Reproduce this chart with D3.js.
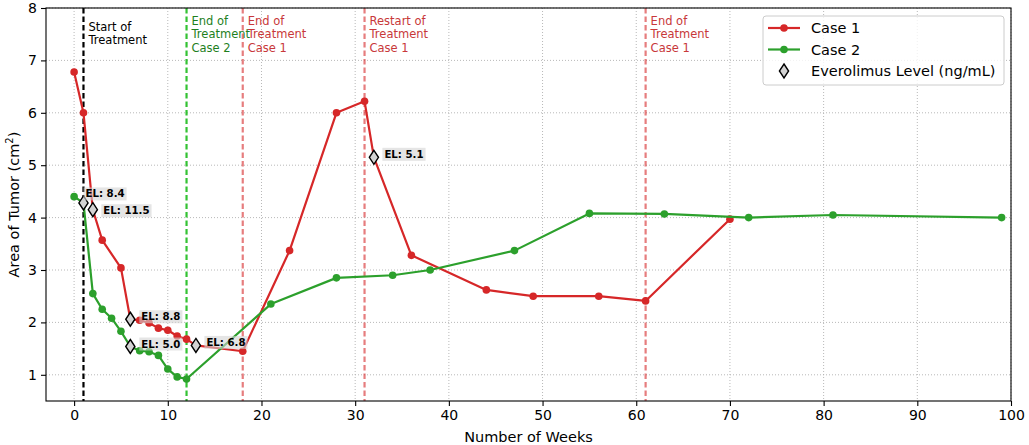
<!DOCTYPE html>
<html><head><meta charset="utf-8">
<script src="https://cdn.jsdelivr.net/npm/d3@7"></script>
<style>body{margin:0;background:#fff} text{font-family:"DejaVu Sans",sans-serif}</style>
</head><body><svg id="c" width="1029" height="445"></svg>
<script>
// ---- data ----
const case1Weeks = [0,1,2,3,5,6,7,8,9,10,11,12,13,18,23,28,31,32,36,44,49,56,61,70];
const case1Area  = [6.78,6.0,4.15,3.57,3.04,2.06,2.04,1.99,1.89,1.85,1.74,1.68,1.56,1.45,3.37,6.0,6.22,5.15,3.28,2.62,2.5,2.5,2.41,3.97];
const case2Weeks = [0,1,2,3,4,5,6,7,8,9,10,11,12,21,28,34,38,47,55,63,72,81,99];
const case2Area  = [4.4,4.28,2.55,2.25,2.08,1.83,1.54,1.46,1.44,1.37,1.11,0.96,0.92,2.35,2.85,2.9,3.0,3.37,4.08,4.07,4.0,4.05,4.0];
const elCase  = [2,1,1,2,1,1];
const elWeek  = [1,2,6,6,13,32];
const elValue = ["8.4","11.5","8.8","5.0","6.8","5.1"];
const eventWeeks  = [1,12,18,31,61];
const eventLabels = [["Start of","Treatment"],["End of","Treatment","Case 2"],["End of","Treatment","Case 1"],["Restart of","Treatment","Case 1"],["End of","Treatment","Case 1"]];
const seriesNames = ["Case 1","Case 2"];
const xTicks = [0,10,20,30,40,50,60,70,80,90,100];
const yTicks = [1,2,3,4,5,6,7,8];

// ---- styles / layout ----
const RED = "#d62728", GREEN = "#2ca02c";
const eventLine = ["#000000","#33c233","rgba(214,39,40,0.6)","rgba(214,39,40,0.6)","rgba(214,39,40,0.6)"];
const eventText = ["#000000","#1e7f1e","#c8383a","#c8383a","#c8383a"];
const eventTop  = [23,17,17,17,17];
const elDx = [2,10.5,11,11,10.5,10.5];
const elDy = [-9,1,-2.5,-2.5,-3,-3];

const W=1029,H=445, L=46,R=1011,T=8,B=401;
const svg = d3.select("#c");
const x = d3.scaleLinear().domain([-3,100]).range([L,R]);
const y = d3.scaleLinear().domain([0.5,8]).range([B,T]);

// grid
const g = svg.append("g");
g.selectAll(".gx").data(xTicks).join("line")
  .attr("x1",d=>x(d)).attr("x2",d=>x(d)).attr("y1",T).attr("y2",B)
  .attr("stroke","#b0b0b0").attr("stroke-width",0.9).attr("stroke-dasharray","1,2");
g.selectAll(".gy").data(yTicks).join("line")
  .attr("y1",d=>y(d)).attr("y2",d=>y(d)).attr("x1",L).attr("x2",R)
  .attr("stroke","#b0b0b0").attr("stroke-width",0.9).attr("stroke-dasharray","1,2");

// event lines
svg.selectAll(".ev").data(eventWeeks).join("line")
  .attr("x1",d=>x(d)).attr("x2",d=>x(d)).attr("y1",T).attr("y2",B)
  .attr("stroke",(d,i)=>eventLine[i]).attr("stroke-width",2.2).attr("stroke-dasharray","5.5,3");

// series
const series = [
  {w:case1Weeks,a:case1Area,c:RED},
  {w:case2Weeks,a:case2Area,c:GREEN}
];
const line = d3.line().x(d=>x(d[0])).y(d=>y(d[1]));
series.forEach(s=>{
  const pts = s.w.map((w,i)=>[w,s.a[i]]);
  svg.append("path").datum(pts).attr("d",line).attr("fill","none")
    .attr("stroke",s.c).attr("stroke-width",2.2).attr("stroke-linejoin","round");
  svg.append("g").selectAll("circle").data(pts).join("circle")
    .attr("cx",d=>x(d[0])).attr("cy",d=>y(d[1])).attr("r",3.8).attr("fill",s.c);
});

// event annotations
eventWeeks.forEach((w,i)=>{
  const t = svg.append("text").attr("x",x(w)+5).attr("y",T+eventTop[i])
    .attr("fill",eventText[i]).attr("font-size",11.5);
  eventLabels[i].forEach((s,j)=>t.append("tspan").attr("x",x(w)+5).attr("dy",j?13.3:0).text(s));
});

// EL diamonds + labels
const diamond = "M0,-7L4.6,0L0,7L-4.6,0Z";
elWeek.forEach((w,i)=>{
  const s = series[elCase[i]-1];
  const v = s.a[s.w.indexOf(w)];
  svg.append("path").attr("d",diamond).attr("transform",`translate(${x(w)},${y(v)})`)
    .attr("fill","#d3d3d3").attr("stroke","#000").attr("stroke-width",1.4);
});
elWeek.forEach((w,i)=>{
  const s = series[elCase[i]-1];
  const v = s.a[s.w.indexOf(w)];
  const px = x(w), py = y(v);
  const grp = svg.append("g");
  const t = grp.append("text").attr("x",px+elDx[i]).attr("y",py+elDy[i])
    .attr("dominant-baseline","central").attr("font-size",10.2).attr("font-weight","bold")
    .attr("fill","#000").text("EL: "+elValue[i]);
  const bb = t.node().getBBox();
  grp.insert("rect","text").attr("x",bb.x-2).attr("y",bb.y-1).attr("width",bb.width+4).attr("height",bb.height+2)
    .attr("fill","#d3d3d3").attr("fill-opacity",0.6);
});

// frame
svg.append("rect").attr("x",L).attr("y",T).attr("width",R-L).attr("height",B-T)
  .attr("fill","none").attr("stroke","#000").attr("stroke-width",1.1);

// axes
const xa = svg.append("g").attr("transform",`translate(0,${B})`)
  .call(d3.axisBottom(x).tickValues(xTicks).tickSize(5).tickPadding(4).tickFormat(d3.format("d")));
const ya = svg.append("g").attr("transform",`translate(${L},0)`)
  .call(d3.axisLeft(y).tickValues(yTicks).tickSize(5).tickPadding(4).tickFormat(d3.format("d")));
[xa,ya].forEach(a=>{
  a.select(".domain").remove();
  a.selectAll("text").attr("font-size",14).attr("fill","#000").attr("font-family","DejaVu Sans");
  a.selectAll("line").attr("stroke","#000").attr("stroke-width",1.1);
});

svg.append("text").attr("x",(L+R)/2).attr("y",442).attr("text-anchor","middle")
  .attr("font-size",14.5).text("Number of Weeks");
const yl = svg.append("text").attr("transform",`translate(19,${(T+B)/2}) rotate(-90)`)
  .attr("text-anchor","middle").attr("font-size",14.5);
yl.append("tspan").text("Area of Tumor (cm");
yl.append("tspan").attr("font-size",10).attr("dy",-6).text("2");
yl.append("tspan").attr("dy",6).text(")");

// legend
const lg = svg.append("g");
lg.append("rect").attr("x",763).attr("y",16).attr("width",241).attr("height",69).attr("rx",3)
  .attr("fill","#fff").attr("fill-opacity",0.8).attr("stroke","#cccccc");
const legY = [28,49.5,71];
series.forEach((s,i)=>{
  lg.append("line").attr("x1",768).attr("x2",800).attr("y1",legY[i]).attr("y2",legY[i])
    .attr("stroke",s.c).attr("stroke-width",2.2);
  lg.append("circle").attr("cx",784).attr("cy",legY[i]).attr("r",3.8).attr("fill",s.c);
  lg.append("text").attr("x",811).attr("y",legY[i]).attr("dominant-baseline","central")
    .attr("font-size",14.5).text(seriesNames[i]);
});
lg.append("path").attr("d",diamond).attr("transform",`translate(784,${legY[2]})`)
  .attr("fill","#d3d3d3").attr("stroke","#000").attr("stroke-width",1.4);
lg.append("text").attr("x",811).attr("y",legY[2]).attr("dominant-baseline","central")
  .attr("font-size",14.5).text("Everolimus Level (ng/mL)");
</script></body></html>
